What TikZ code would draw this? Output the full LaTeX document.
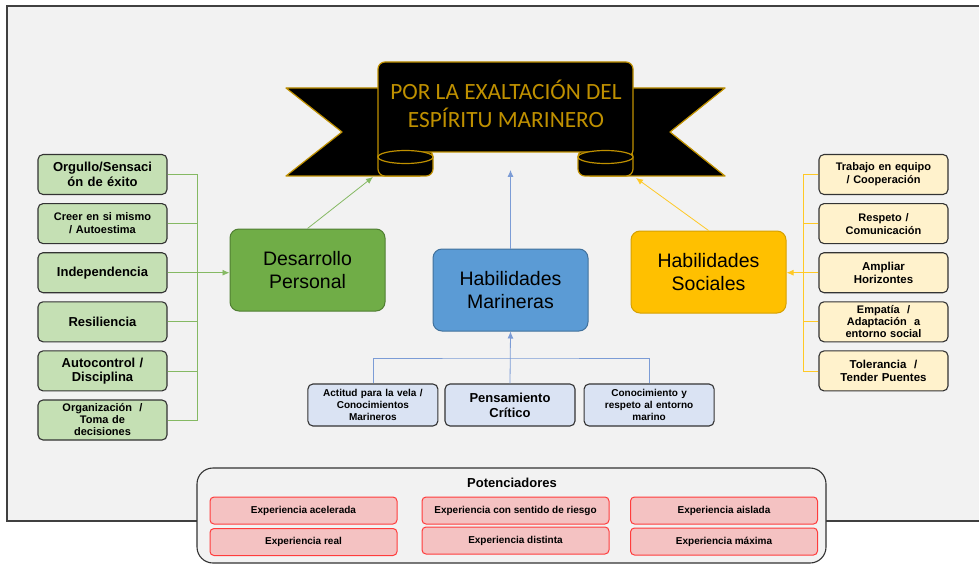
\documentclass[tikz,border=0pt]{standalone}
\usepackage{fontspec}
\setmainfont{Liberation Sans}
\newfontfamily\bannerfont{Carlito}
\usepackage{xcolor}
\usepackage{tikz}
\usetikzlibrary{positioning, arrows.meta, calc}
\definecolor{bggray}{RGB}{242, 242, 242}
\definecolor{ribbongold}{RGB}{191, 144, 0}
\definecolor{persgreen}{RGB}{112, 173, 71}
\definecolor{persgreendark}{RGB}{80, 126, 50}
\definecolor{persgreenlight}{RGB}{197, 224, 180}
\definecolor{marblue}{RGB}{91, 155, 213}
\definecolor{marbluedark}{RGB}{65, 113, 156}
\definecolor{marbluelight}{RGB}{218, 227, 243}
\definecolor{marline}{RGB}{68, 114, 196}
\definecolor{socyellow}{RGB}{255, 192, 0}
\definecolor{socyellowdark}{RGB}{214, 160, 0}
\definecolor{socyellowlight}{RGB}{255, 242, 204}
\definecolor{potred}{RGB}{255, 60, 60}
\definecolor{potredlight}{RGB}{244, 194, 194}

\begin{document}
\begin{tikzpicture}[x=1pt, y=-1pt, node distance=8pt, >={Latex[length=7pt, width=6pt]}]
    \tikzstyle{leftitem} = [rectangle, draw=black!80, line width=1.1pt, fill=persgreenlight, rounded corners=5pt, minimum width=129pt, minimum height=40pt, text width=125pt, align=center, inner sep=1pt, font=\bfseries\fontsize{13}{14.5}\selectfont]
    \tikzstyle{rightitem} = [leftitem, fill=socyellowlight, font=\bfseries\fontsize{11}{13}\selectfont]
    \tikzstyle{miditem} = [leftitem, fill=marbluelight, minimum width=130pt, minimum height=42pt, font=\bfseries\fontsize{10}{12}\selectfont]
    \tikzstyle{skill} = [rectangle, draw, line width=1pt, rounded corners=9pt, minimum width=155pt, minimum height=82pt, align=center, font=\fontsize{19.5}{23.5}\selectfont]
    \tikzstyle{booster} = [rectangle, draw=potred, line width=1pt, fill=potredlight, rounded corners=4pt, minimum width=187pt, minimum height=27pt, inner sep=1pt, font=\bfseries\fontsize{10}{12}\selectfont]
    \tikzstyle{ribbon} = [fill=black, draw=ribbongold, line width=1.2pt, line join=round]
    \tikzstyle{persline} = [draw=persgreen!85, line width=0.8pt]
    \tikzstyle{marlinestyle} = [draw=marline!70, line width=0.8pt]
    \tikzstyle{socline} = [draw=socyellow!85, line width=0.8pt]

    \useasboundingbox (0,0) rectangle (979,564);
    \fill[white] (0,0) rectangle (979,564);
    \fill[bggray] (7,6) rectangle (979,521);
    \draw[black!75, line width=1.3pt] (979,6) -- (7,6) -- (7,521) -- (979,521);

    % banner
    \draw[ribbon] (286,88) -- (420,88) -- (420,176) -- (286,176) -- (342,132) -- cycle;
    \draw[ribbon] (725,88) -- (590,88) -- (590,176) -- (725,176) -- (670,132) -- cycle;
    \draw[ribbon, rounded corners=7pt] (378,150) rectangle (433,176);
    \draw[ribbon, rounded corners=7pt] (578,150) rectangle (633,176);
    \draw[ribbon, rounded corners=7pt] (378,157) -- (378,62) -- (633,62) -- (633,157) [sharp corners] -- (605.5,157) -- (605.5,152) -- (405.5,152) -- (405.5,157) -- cycle;
    \draw[ribbon] (405.5,157) ellipse[x radius=27.5, y radius=6.5];
    \draw[ribbon] (605.5,157) ellipse[x radius=27.5, y radius=6.5];
    \node[text=ribbongold, align=center, font=\bannerfont\fontsize{23.3}{28}\selectfont] (title) at (506,104) {POR LA EXALTACIÓN DEL\\ESPÍRITU MARINERO};
    \coordinate (bannerL) at (373,177);
    \coordinate (bannerC) at (510.5,170);
    \coordinate (bannerR) at (636,178);

    % main skills
    \node[skill, fill=persgreen, draw=persgreendark] (desarrollo) at (307.5,270) {Desarrollo\\Personal};
    \node[skill, fill=marblue, draw=marbluedark] (marineras) at (510.5,290) {Habilidades\\Marineras};
    \node[skill, fill=socyellow, draw=socyellowdark] (sociales) at (708.5,272) {Habilidades\\Sociales};

    \draw[->, persline] (desarrollo.north) -- (bannerL);
    \draw[->, marlinestyle] (marineras.north) -- (bannerC);
    \draw[->, socline] (sociales.north) -- (bannerR);

    % left column
    \node[leftitem] (orgullo) at (102.5,174.5) {Orgullo/Sensaci\\ón de éxito};
    \node[leftitem, below=of orgullo, font=\bfseries\fontsize{11}{13}\selectfont] (creer) {Creer en si mismo\\/ Autoestima};
    \node[leftitem, below=of creer] (independencia) {Independencia};
    \node[leftitem, below=of independencia] (resiliencia) {Resiliencia};
    \node[leftitem, below=of resiliencia] (autocontrol) {Autocontrol /\\Disciplina};
    \node[leftitem, below=of autocontrol, font=\bfseries\fontsize{11}{12}\selectfont] (organizacion) {Organización \ /\\Toma de\\decisiones};

    \coordinate (lbus) at (197,272);
    \draw[persline] (orgullo.east) -- (orgullo.east -| lbus) -- (organizacion.east -| lbus) -- (organizacion.east);
    \foreach \n in {creer, independencia, resiliencia, autocontrol}
        \draw[persline] (\n.east) -- (\n.east -| lbus);
    \draw[->, persline] (independencia.east -| lbus) -- (desarrollo.west |- independencia.east);

    % right column
    \node[rightitem] (trabajo) at (883.5,174.5) {Trabajo en equipo\\/ Cooperación};
    \node[rightitem, below=of trabajo] (respeto) {Respeto /\\Comunicación};
    \node[rightitem, below=of respeto, font=\bfseries\fontsize{11.5}{13.5}\selectfont] (ampliar) {Ampliar\\Horizontes};
    \node[rightitem, below=of ampliar, font=\bfseries\fontsize{11}{12}\selectfont] (empatia) {Empatía \ /\\Adaptación \ a\\entorno social};
    \node[rightitem, below=of empatia, font=\bfseries\fontsize{11.5}{13.5}\selectfont] (tolerancia) {Tolerancia \ /\\Tender Puentes};

    \coordinate (rbus) at (803,272);
    \draw[socline] (trabajo.west) -- (trabajo.west -| rbus) -- (tolerancia.west -| rbus) -- (tolerancia.west);
    \foreach \n in {respeto, ampliar, empatia}
        \draw[socline] (\n.west) -- (\n.west -| rbus);
    \draw[->, socline] (ampliar.west -| rbus) -- (sociales.east |- ampliar.west);

    % bottom of marineras
    \node[miditem, font=\bfseries\fontsize{13}{15}\selectfont] (pensamiento) at (510,405) {Pensamiento\\Crítico};
    \node[miditem, left=6pt of pensamiento] (actitud) {Actitud para la vela /\\Conocimientos\\Marineros};
    \node[miditem, right=8pt of pensamiento] (conocimiento) {Conocimiento y\\respeto al entorno\\marino};

    \coordinate (mbus) at (510,358);
    \draw[marlinestyle] (actitud.north) |- (mbus) -| (conocimiento.north);
    \draw[->, marlinestyle] (pensamiento.north) -- (marineras.south);

    % potenciadores
    \node[rectangle, draw=black!80, line width=1.1pt, fill=bggray, rounded corners=16pt, minimum width=629pt, minimum height=95pt] (potframe) at (511.5,515.5) {};
    \node[font=\bfseries\fontsize{13}{15}\selectfont] (potlabel) at (512,483) {Potenciadores};
    \node[booster] (acelerada) at (303.5,510.5) {Experiencia acelerada};
    \node[booster] (real) at (303.5,542) {Experiencia real};
    \node[booster] (riesgo) at (515.5,510.5) {Experiencia con sentido de riesgo};
    \node[booster] (distinta) at (515.5,540.5) {Experiencia distinta};
    \node[booster] (aislada) at (724,510.5) {Experiencia aislada};
    \node[booster] (maxima) at (724,541.5) {Experiencia máxima};
\end{tikzpicture}
\end{document}
